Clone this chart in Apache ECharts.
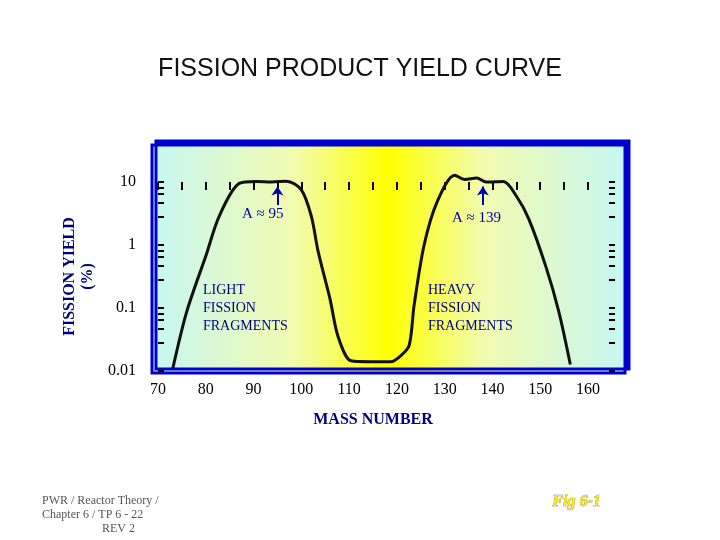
<!DOCTYPE html>
<html>
<head>
<meta charset="utf-8">
<style>html,body,#main{width:720px;height:540px;margin:0;padding:0;background:#fff}</style>
</head>
<body>
<div id="main"></div>
<script src="https://cdn.jsdelivr.net/npm/echarts@6/dist/echarts.min.js"></script>
<script>
// mass number / yield (%)
var massNumber = [73.1, 76.0, 80.1, 82.8, 87.0, 90.5, 93.8, 96.9, 100.0, 102.1, 103.5, 106.0, 107.7, 110.4, 114.5, 118.7, 121.0, 122.6, 123.6, 125.7, 128.4, 132.1, 134.2, 136.7, 138.7, 142.3, 145.0, 147.6, 151.2, 153.9, 156.3];
var yieldPct   = [0.011, 0.087, 0.7, 2.85, 9.5, 10.2, 10.0, 10.3, 7.5, 2.85, 0.8, 0.14, 0.035, 0.0145, 0.014, 0.014, 0.018, 0.026, 0.11, 1.0, 4.8, 12.8, 11.0, 11.6, 10.0, 10.2, 6.0, 2.6, 0.45, 0.087, 0.0127];
var xTicks = [70, 80, 90, 100, 110, 120, 130, 140, 150, 160];
var yTicks = [0.01, 0.1, 1, 10];

var chart = echarts.init(document.getElementById('main'));
var serif = '"Liberation Serif", "DejaVu Serif", serif';
chart.setOption({
  animation: false,
  title: {text: 'FISSION PRODUCT YIELD CURVE', left: 'center', top: 52,
    textStyle: {fontFamily: 'Liberation Sans, sans-serif', fontWeight: 'normal', fontSize: 25, color: '#111'}},
  grid: [
    {left: 152, right: 95, top: 145, bottom: 167, show: true, borderColor: '#0000cc', borderWidth: 3,
      shadowColor: '#0000cc', shadowOffsetX: 4, shadowOffsetY: -4, shadowBlur: 0,
      backgroundColor: new echarts.graphic.LinearGradient(0, 0, 1, 0, [
        {offset: 0, color: '#c6f6f4'}, {offset: 0.3, color: '#f2fbb0'},
        {offset: 0.5, color: '#ffff00'}, {offset: 0.7, color: '#f2fbb0'}, {offset: 1, color: '#c6f6f4'}])},
    {left: 158, right: 132, top: 182, bottom: 169}
  ],
  xAxis: [
    {gridIndex: 0, show: false, min: 0, max: 1},
    {gridIndex: 1, type: 'value', min: 70, max: 160, interval: 10,
      axisLine: {show: false}, splitLine: {show: false},
      axisTick: {show: false},
      axisLabel: {fontFamily: serif, fontSize: 16, color: '#000', margin: 11},
      name: 'MASS NUMBER', nameLocation: 'middle', nameGap: 41,
      nameTextStyle: {fontFamily: serif, fontSize: 16, fontWeight: 'bold', color: '#000080'}},
    {gridIndex: 1, type: 'value', position: 'top', min: 70, max: 160, interval: 5,
      axisLine: {show: false}, splitLine: {show: false}, axisLabel: {show: false},
      axisTick: {show: true, inside: true, length: 8, lineStyle: {color: '#000', width: 2}}}
  ],
  yAxis: [
    {gridIndex: 0, show: false, min: 0, max: 1},
    {gridIndex: 1, type: 'log', min: 0.01, max: 10, logBase: 10,
      axisLine: {show: false}, splitLine: {show: false},
      axisTick: {show: true, inside: true, length: 6, lineStyle: {color: '#000', width: 2}},
      minorTick: {show: true, splitNumber: 5, length: 6, lineStyle: {color: '#000', width: 2}},
      axisLabel: {fontFamily: serif, fontSize: 16, color: '#000', margin: 22},
      name: 'FISSION YIELD\n(%)', nameLocation: 'middle', nameGap: 58, nameRotate: 90,
      nameTextStyle: {fontFamily: serif, fontSize: 16, fontWeight: 'bold', color: '#000080', lineHeight: 18}},
    {gridIndex: 1, type: 'log', position: 'right', offset: 27, min: 0.01, max: 10, logBase: 10,
      axisLine: {show: false}, splitLine: {show: false}, axisLabel: {show: false},
      axisTick: {show: true, inside: true, length: 6, lineStyle: {color: '#000', width: 2}},
      minorTick: {show: true, splitNumber: 5, length: 6, lineStyle: {color: '#000', width: 2}}}
  ],
  series: [{
    type: 'line', xAxisIndex: 1, yAxisIndex: 1, smooth: 0.3, symbol: 'none', clip: false,
    lineStyle: {color: '#111', width: 3},
    data: massNumber.map(function (m, i) { return [m, yieldPct[i]]; }),
    markLine: {
      silent: true, symbol: ['none', 'arrow'], symbolSize: 9,
      lineStyle: {color: '#0000aa', width: 2, type: 'solid'}, label: {show: false},
      data: [
        [{coord: [95, 4.3]}, {coord: [95, 8.5]}],
        [{coord: [138, 4.3]}, {coord: [138, 8.5]}]
      ]
    }
  }],
  graphic: [
    {type: 'text', left: 242, top: 207, style: {text: 'A ≈ 95', font: '15px ' + serif, fill: '#0000aa'}},
    {type: 'text', left: 452, top: 211, style: {text: 'A ≈ 139', font: '15px ' + serif, fill: '#0000aa'}},
    {type: 'text', left: 203, top: 281, style: {text: 'LIGHT\nFISSION\nFRAGMENTS', font: '14px ' + serif, fill: '#000080', lineHeight: 18}},
    {type: 'text', left: 428, top: 281, style: {text: 'HEAVY\nFISSION\nFRAGMENTS', font: '14px ' + serif, fill: '#000080', lineHeight: 18}},
    {type: 'text', left: 42, top: 494, style: {text: 'PWR / Reactor Theory /\nChapter 6 / TP 6 - 22\n                    REV 2', font: '12px ' + serif, fill: '#555', lineHeight: 14}},
    {type: 'text', left: 552, top: 494, style: {text: 'Fig 6-1', font: 'italic bold 16px ' + serif, fill: '#ffee00', stroke: '#777', lineWidth: 0.6, shadowColor: '#888', shadowOffsetX: 1, shadowOffsetY: 1}}
  ]
});
</script>
</body>
</html>
